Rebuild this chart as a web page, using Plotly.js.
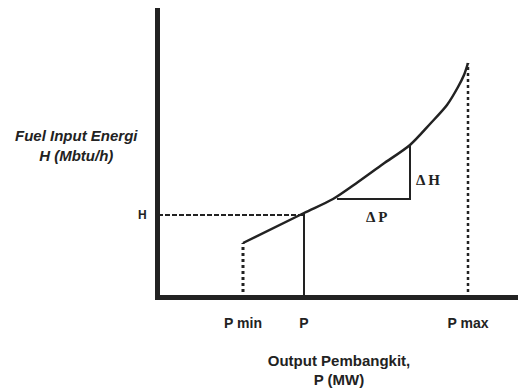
<!DOCTYPE html>
<html>
<head>
<meta charset="utf-8">
<script src="https://cdn.plot.ly/plotly-3.0.1.min.js"></script>
<style>html,body{margin:0;padding:0;background:#fff;}#chart{width:518px;height:392px;}</style>
</head>
<body>
<div id="chart"></div>
<script>
// Fuel input-output curve (schematic units)
var curveX = [85, 146, 175, 200, 225, 252, 272, 289, 300, 306, 310];
var curveY = [55, 85, 99, 116, 134, 153, 174, 193, 211, 223, 235];
var pMin = 85, pVal = 146, pMax = 310;
var hVal = 83;
var triX = [179, 252, 252];
var triY = [99, 99, 153];
var xTickVals = [85, 146, 310];
var xTickText = ['P min', 'P', 'P max'];
var yTickVals = [83];
var yTickText = ['H'];

var ink = '#222';
var traces = [
  {x: curveX, y: curveY, mode: 'lines', line: {color: ink, width: 2.5, shape: 'spline', smoothing: 0.8}},
  {x: [pMin, pMin], y: [0, curveY[0]], mode: 'lines', line: {color: ink, width: 3, dash: 'dot'}},
  {x: [pVal, pVal], y: [0, curveY[1]], mode: 'lines', line: {color: ink, width: 2}},
  {x: [pMax, pMax], y: [0, curveY[curveY.length - 1]], mode: 'lines', line: {color: ink, width: 2.5, dash: 'dot'}},
  {x: [0, pVal], y: [hVal, hVal], mode: 'lines', line: {color: ink, width: 2, dash: '5px,2px'}},
  {x: triX, y: triY, mode: 'lines', line: {color: ink, width: 2}}
];

var layout = {
  width: 518, height: 392,
  margin: {l: 160, r: 0, t: 8, b: 97, pad: 0},
  paper_bgcolor: '#fff', plot_bgcolor: '#fff',
  showlegend: false,
  font: {family: 'Liberation Sans, Arial, sans-serif', color: ink, size: 12},
  xaxis: {
    range: [2, 360], showgrid: false, zeroline: false,
    showline: true, linewidth: 5, linecolor: ink,
    tickvals: xTickVals, ticktext: xTickText, ticks: '',
    tickfont: {size: 14, family: 'Liberation Sans, Arial, sans-serif', weight: 'bold'},
    ticklabelstandoff: 11,
    title: {text: '<b>Output Pembangkit,<br>P (MW)</b>', standoff: 27,
            font: {size: 15, family: 'Liberation Sans, Arial, sans-serif'}}
  },
  yaxis: {
    range: [3, 290], showgrid: false, zeroline: false,
    showline: true, linewidth: 5, linecolor: ink,
    tickvals: yTickVals, ticktext: yTickText, ticks: '',
    tickfont: {size: 12, family: 'Liberation Sans, Arial, sans-serif', weight: 'bold'},
    ticklabelstandoff: 6
  },
  annotations: [
    {xref: 'paper', yref: 'paper', x: (76 - 160) / 358, y: (295 - 145) / 287,
     text: '<b><i>Fuel Input Energi<br>H (Mbtu/h)</i></b>', showarrow: false,
     font: {size: 15, family: 'Liberation Sans, Arial, sans-serif'}, xanchor: 'center', yanchor: 'middle'},
    {xref: 'x', yref: 'y', x: 256, y: 118, text: '<b>Δ H</b>', showarrow: false, xanchor: 'left',
     font: {size: 15, family: 'Liberation Serif, serif'}},
    {xref: 'x', yref: 'y', x: 219, y: 81, text: '<b>Δ P</b>', showarrow: false, xanchor: 'center',
     font: {size: 15, family: 'Liberation Serif, serif'}}
  ]
};

Plotly.newPlot('chart', traces, layout, {staticPlot: true, displayModeBar: false});
</script>
</body>
</html>
